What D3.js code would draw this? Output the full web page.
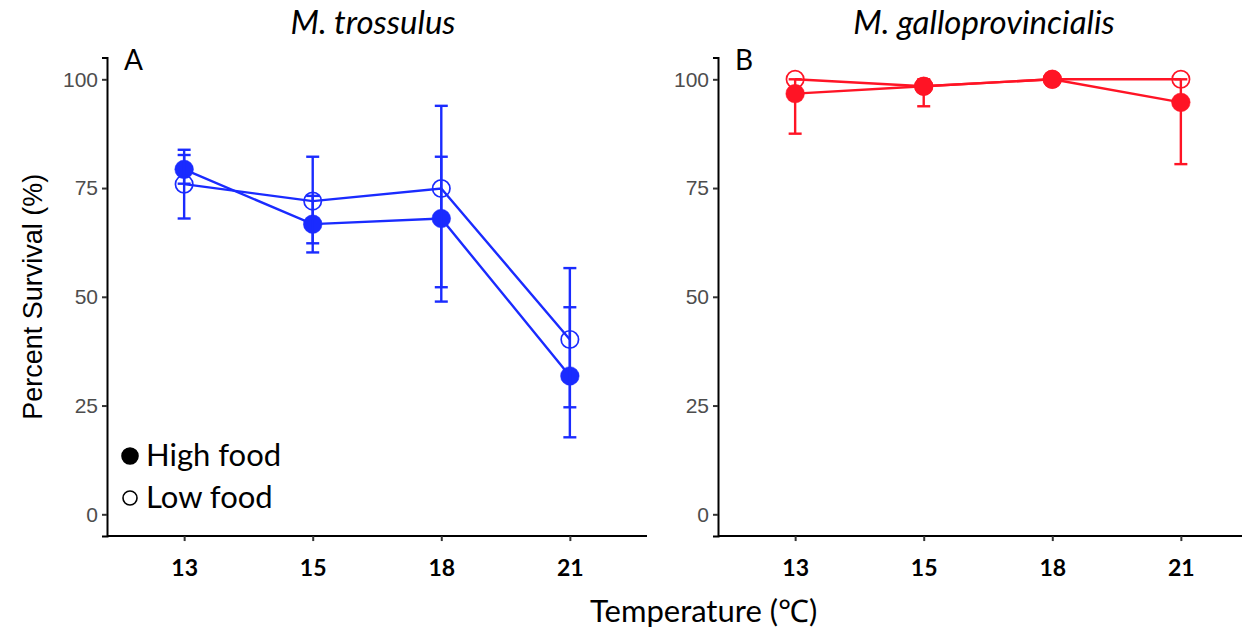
<!DOCTYPE html>
<html>
<head>
<meta charset="utf-8">
<title>Percent survival by temperature</title>
<script src="https://d3js.org/d3.v7.min.js"></script>
<style>
  body { margin: 0; background: #fff; }
  svg { display: block; }
</style>
</head>
<body>
<div id="chart"></div>
<script>
// temperatures (categorical x)
var temps = ["13", "15", "18", "21"];
var yTicks = [0, 25, 50, 75, 100];

// M. trossulus (panel A)
var troHigh   = [79.3, 66.7, 68.0, 31.8];
var troHighLo = [76.0, 60.2, 52.2, 17.7];
var troHighHi = [82.6, 73.2, 82.2, 47.6];
var troLow    = [75.9, 72.0, 74.9, 40.2];
var troLowLo  = [68.0, 62.3, 48.9, 24.6];
var troLowHi  = [83.8, 82.2, 93.9, 56.6];

// M. galloprovincialis (panel B)
var galHigh   = [96.7, 98.4, 100, 94.7];
var galHighLo = [87.5, 93.8, 100, 80.5];
var galHighHi = [100, 100, 100, 100];
var galLow    = [100, 98.4, 100, 100];
var galLowLo  = [100, 98.4, 100, 100];
var galLowHi  = [100, 98.4, 100, 100];

var W = 1242, H = 634;
var svg = d3.select("#chart").append("svg")
    .attr("width", W).attr("height", H);

var y = d3.scaleLinear().domain([-5, 105]).range([536.05, 57.55]);

function rows(mean, lo, hi) {
    return temps.map(function(t, i) { return {t: t, m: mean[i], lo: lo[i], hi: hi[i]}; });
}

function panel(x0, title, tag, color, series) {
    var x = d3.scalePoint().domain(temps).range([x0, x0 + 540]).padding(0.6);
    var g = svg.append("g");

    // axes
    var ya = g.append("g").attr("transform", "translate(" + x0 + ",0)")
        .call(d3.axisLeft(y).tickValues(yTicks).tickSize(5).tickPadding(4));
    ya.select(".domain").attr("stroke", "#000").attr("stroke-width", 2);
    ya.selectAll(".tick line").attr("stroke", "#333").attr("stroke-width", 2);
    ya.selectAll(".tick text")
        .attr("fill", "#4d4d4d")
        .style("font-family", "'Liberation Sans', Arial, sans-serif")
        .style("font-size", "21px");

    var xa = g.append("g").attr("transform", "translate(0," + y(-5) + ")")
        .call(d3.axisBottom(x).tickSize(5).tickPadding(19));
    xa.select(".domain").attr("stroke", "#000").attr("stroke-width", 2)
        .attr("d", "M" + x0 + ",0H" + (x0 + 540));
    xa.selectAll(".tick line").attr("stroke", "#333").attr("stroke-width", 2);
    xa.selectAll(".tick text")
        .attr("fill", "#000")
        .style("font-family", "Lato, sans-serif")
        .style("font-weight", "bold")
        .style("font-size", "23px");

    // title and panel letter
    g.append("text")
        .attr("x", x0 + 266).attr("y", 34)
        .attr("text-anchor", "middle")
        .style("font-family", "Lato, sans-serif")
        .style("font-style", "italic")
        .style("font-size", "33px")
        .text(title);
    g.append("text")
        .attr("x", x0 + 17).attr("y", 70)
        .style("font-family", "Lato, sans-serif")
        .style("font-size", "28px")
        .text(tag);

    var line = d3.line().x(function(d) { return x(d.t); }).y(function(d) { return y(d.m); });

    series.forEach(function(s) {
        g.append("path").datum(s.data)
            .attr("d", line).attr("fill", "none")
            .attr("stroke", color).attr("stroke-width", 2.4);

        var eb = g.selectAll(null).data(s.data.filter(function(d) { return d.hi > d.lo; }))
            .enter().append("g");
        eb.append("line")
            .attr("x1", function(d) { return x(d.t); }).attr("x2", function(d) { return x(d.t); })
            .attr("y1", function(d) { return y(d.lo); }).attr("y2", function(d) { return y(d.hi); })
            .attr("stroke", color).attr("stroke-width", 2.4);
        ["lo", "hi"].forEach(function(k) {
            eb.append("line")
                .attr("x1", function(d) { return x(d.t) - 6.5; })
                .attr("x2", function(d) { return x(d.t) + 6.5; })
                .attr("y1", function(d) { return y(d[k]); })
                .attr("y2", function(d) { return y(d[k]); })
                .attr("stroke", color).attr("stroke-width", 2.4);
        });

        g.selectAll(null).data(s.data).enter().append("circle")
            .attr("cx", function(d) { return x(d.t); })
            .attr("cy", function(d) { return y(d.m); })
            .attr("r", s.filled ? 9.3 : 8.7)
            .attr("fill", s.filled ? color : "none")
            .attr("stroke", color)
            .attr("stroke-width", s.filled ? 0.5 : 1.7);
    });
}

panel(107, "M. trossulus", "A", "#1a2bff", [
    {filled: true,  data: rows(troHigh, troHighLo, troHighHi)},
    {filled: false, data: rows(troLow, troLowLo, troLowHi)}
]);
panel(718, "M. galloprovincialis", "B", "#ff1425", [
    {filled: false, data: rows(galLow, galLowLo, galLowHi)},
    {filled: true,  data: rows(galHigh, galHighLo, galHighHi)}
]);

// y axis title
svg.append("text")
    .attr("transform", "translate(42," + y(50) + ") rotate(-90)")
    .attr("text-anchor", "middle")
    .style("font-family", "'Liberation Sans', Arial, sans-serif")
    .style("font-size", "27px")
    .text("Percent Survival (%)");

// x axis title
svg.append("text")
    .attr("x", 590).attr("y", 622)
    .style("font-family", "Lato, sans-serif")
    .style("font-size", "31px")
    .text("Temperature (\u2103)");

// legend
var legend = [
    {label: "High food", filled: true, cy: 456},
    {label: "Low food", filled: false, cy: 498}
];
var lg = svg.selectAll(".legend").data(legend).enter().append("g").attr("class", "legend");
lg.append("circle")
    .attr("cx", 130).attr("cy", function(d) { return d.cy; })
    .attr("r", function(d) { return d.filled ? 8 : 7; })
    .attr("fill", function(d) { return d.filled ? "#000" : "none"; })
    .attr("stroke", "#000").attr("stroke-width", 1.6);
lg.append("text")
    .attr("x", 146).attr("y", function(d) { return d.cy + 10; })
    .style("font-family", "Lato, sans-serif")
    .style("font-size", "31px")
    .text(function(d) { return d.label; });
</script>
</body>
</html>
